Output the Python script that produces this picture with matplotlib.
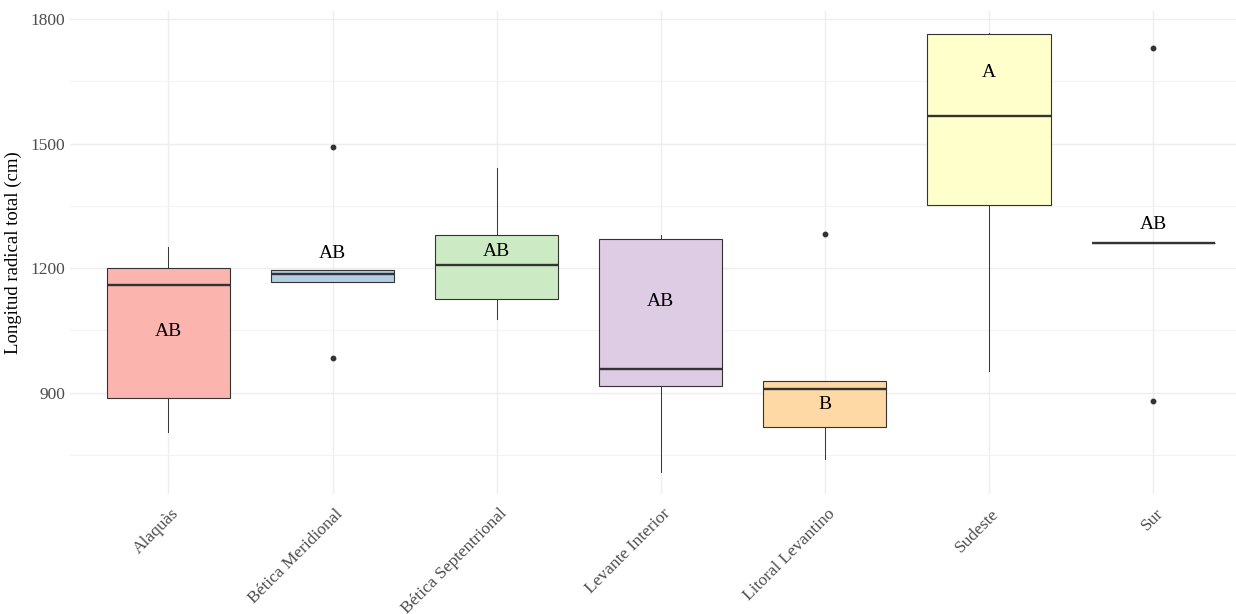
import matplotlib.pyplot as plt
from matplotlib.ticker import MultipleLocator
from matplotlib.transforms import ScaledTranslation

# Box statistics (cm)
regions = ["Alaquàs", "Bética Meridional", "Bética Septentrional", "Levante Interior",
           "Litoral Levantino", "Sudeste", "Sur"]
q1 = [887, 1166, 1125, 915, 818, 1351, 1260]
med = [1159, 1186, 1207, 958, 909, 1566, 1260]
q3 = [1200, 1195, 1279, 1271, 928, 1763, 1260]
whislo = [805, 1166, 1077, 709, 740, 952, 1260]
whishi = [1250, 1195, 1441, 1280, 928, 1767, 1260]
outliers = [[], [1491, 983], [], [], [1283], [], [1729, 879]]
letters = ["AB", "AB", "AB", "AB", "B", "A", "AB"]
letter_y = [1048, 1236, 1241, 1120, 872, 1670, 1306]
colors = ["#FBB4AE", "#B3CDE3", "#CCEBC5", "#DECBE4", "#FED9A6", "#FFFFCC", "#E5D8BD"]

plt.rcParams['font.family'] = ['Liberation Serif', 'DejaVu Serif']

fig = plt.figure(figsize=(12.36, 6.14), dpi=100)
ax = fig.add_axes([70 / 1236, 120 / 614, (1236 - 70) / 1236, 483.3 / 614])

stats = []
for i, name in enumerate(regions):
    stats.append({"label": name, "q1": q1[i], "med": med[i], "q3": q3[i],
                  "whislo": whislo[i], "whishi": whishi[i], "fliers": outliers[i]})

pos = list(range(1, len(regions) + 1))
bp = ax.bxp(stats, positions=pos, widths=0.75, patch_artist=True, showcaps=False,
            boxprops=dict(edgecolor="#333333", linewidth=0.8),
            whiskerprops=dict(color="#333333", linewidth=0.7),
            medianprops=dict(color="#333333", linewidth=1.7),
            flierprops=dict(marker="o", markersize=3.2, markerfacecolor="#333333",
                            markeredgecolor="#333333"),
            zorder=3)
for patch, c in zip(bp["boxes"], colors):
    patch.set_facecolor(c)

for x, lab, y in zip(pos, letters, letter_y):
    ax.text(x, y, lab, ha="center", va="center", fontsize=14, color="black", zorder=5)

ax.set_xlim(0.4, 7.505)
ax.set_ylim(656, 1820)
ax.yaxis.set_major_locator(MultipleLocator(300))
ax.yaxis.set_minor_locator(MultipleLocator(150))
ax.grid(True, which="major", color="#EDEDED", linewidth=1.0, zorder=0)
ax.grid(True, which="minor", axis="y", color="#F3F3F3", linewidth=0.8, zorder=0)
ax.set_axisbelow(True)
for s in ax.spines.values():
    s.set_visible(False)
ax.tick_params(which="both", length=0, colors="#4D4D4D", labelsize=12.5)
ax.set_xticks(pos)
ax.set_xticklabels(regions, rotation=45, ha="right", va="top", rotation_mode="anchor")
shift = ScaledTranslation(0.02, -0.07, fig.dpi_scale_trans)
for lab in ax.get_xticklabels():
    lab.set_transform(lab.get_transform() + shift)
ax.set_ylabel("Longitud radical total (cm)", fontsize=13.5, color="black", labelpad=6)

fig.savefig("out.png", dpi=100)
